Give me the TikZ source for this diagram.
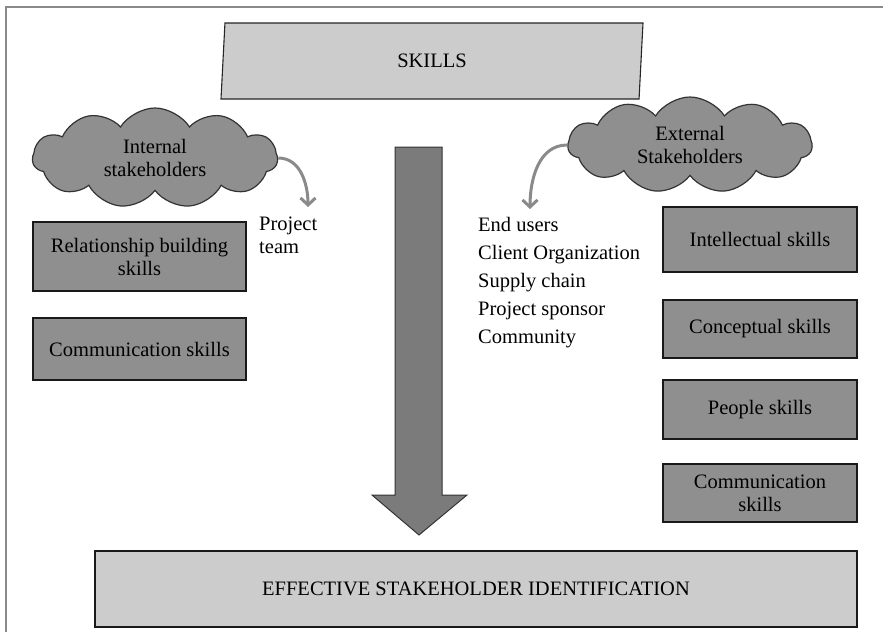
\documentclass[tikz,border=0pt]{standalone}
\usepackage{fontspec}
\setmainfont{Liberation Serif}
\usepackage{tikz}
\usetikzlibrary{arrows.meta,shapes.symbols,shapes.geometric,shadows}

\definecolor{boxgray}{HTML}{8F8F8F}
\definecolor{palegray}{HTML}{CCCCCC}
\definecolor{arrowgray}{HTML}{7B7B7B}
\definecolor{linegray}{HTML}{8A8A8A}

\begin{document}
\begin{tikzpicture}[x=1pt,y=-1pt,font=\fontsize{20.5}{23}\selectfont,
			skill node/.style={rectangle,draw=black!90,line width=1.6pt,fill=boxgray,align=center,inner sep=0pt,
				drop shadow={opacity=0.25,shadow xshift=1pt,shadow yshift=-1pt}},
			cloud node/.style={cloud,cloud puffs=11,cloud puff arc=115,cloud ignores aspect,draw=black!80,line width=1.2pt,
				fill=boxgray,align=center,inner sep=0pt},
			stake arrow/.style={draw=linegray,line width=3pt,-{Straight Barb[length=7pt,width=15pt]}}]

			\useasboundingbox (0,0) rectangle (883,632);
			\draw[linegray,line width=1.5pt] (6,632) -- (6,7) -- (883,7);

			% top and bottom
			\node[trapezium,trapezium left angle=74,trapezium right angle=106,trapezium stretches body,
				minimum width=422pt,minimum height=76pt,inner sep=0pt,draw=black!85,line width=1.1pt,fill=palegray] (skills) at (432,61) {SKILLS};
			\node[skill node,fill=palegray,line width=1.8pt,minimum width=762pt,minimum height=76pt] (effective) at (476,589) {EFFECTIVE STAKEHOLDER IDENTIFICATION};

			% big arrow
			\draw[fill=arrowgray,draw=black!80,line width=1pt] (395,147) -- (442,147) -- (442,495) -- (467,495) -- (419,535) -- (372,495) -- (395,495) -- cycle;

			% internal side
			\node[cloud node,minimum width=245pt,minimum height=100pt] (intcloud) at (155,158) {Internal\\stakeholders};
			\coordinate (inttip) at (308,207);
			\node[anchor=north west,align=left,inner sep=0pt] (pteam) at (259,217) {Project\\team};
			\node[skill node,minimum width=213pt,minimum height=69pt] (relbuild) at (139.5,256.5) {Relationship building\\skills};
			\node[skill node,minimum width=213pt,minimum height=62pt] (comleft) at (139.5,349) {Communication skills};

			% external side
			\node[cloud node,minimum width=244pt,minimum height=96pt] (extcloud) at (690,145) {External\\Stakeholders};
			\coordinate (exttip) at (530,209);
			\node[anchor=north west,align=left,inner sep=0pt,font=\fontsize{20.5}{28}\selectfont] (extlist) at (478,217)
				{End users\\Client Organization\\Supply chain\\Project sponsor\\Community};
			\node[skill node,minimum width=194pt,minimum height=65pt] (intel) at (760,239.5) {Intellectual skills};
			\node[skill node,minimum width=194pt,minimum height=58pt] (concept) at (760,329) {Conceptual skills};
			\node[skill node,minimum width=194pt,minimum height=59pt] (people) at (760,409.5) {People skills};
			\node[skill node,minimum width=194pt,minimum height=58pt] (comright) at (760,493) {Communication\\skills};

			\path
			(intcloud.east) edge[stake arrow,out=0,in=90] (inttip)
			(extcloud.west) edge[stake arrow,out=180,in=90] (exttip);

		\end{tikzpicture}
\end{document}
